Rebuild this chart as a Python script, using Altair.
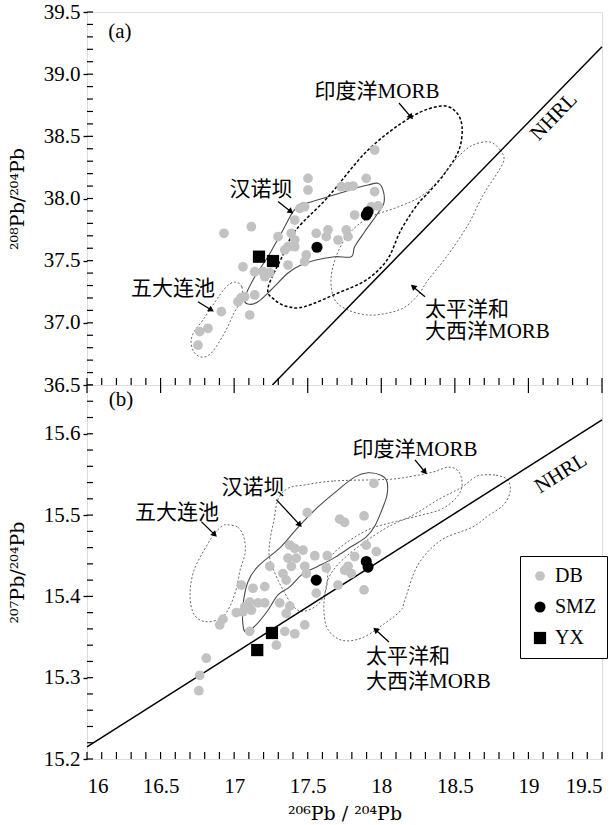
import altair as alt
import pandas as pd

# ================= Panel (a): 208Pb/204Pb vs 206Pb/204Pb =================
a_db_x = [17.502, 17.502, 17.898, 17.728, 17.774, 17.808, 17.955, 17.446, 17.479, 17.412,
          17.819, 17.932, 17.978, 16.931, 17.117, 17.298, 17.388, 17.412, 17.366, 17.412,
          17.344, 17.558, 17.638, 17.626, 17.762, 17.774, 17.706, 17.490, 17.479, 17.366,
          17.060, 17.140, 17.196, 17.242, 17.208, 17.140, 17.072, 17.026, 17.047, 16.913,
          17.106, 16.822, 16.766, 16.754, 17.955]
a_db_y = [38.162, 38.068, 38.162, 38.095, 38.095, 38.100, 38.055, 37.921, 37.934, 37.827,
          37.867, 37.934, 37.940, 37.720, 37.773, 37.693, 37.720, 37.666, 37.612, 37.612,
          37.586, 37.720, 37.747, 37.693, 37.747, 37.693, 37.666, 37.546, 37.492, 37.465,
          37.451, 37.411, 37.411, 37.401, 37.371, 37.224, 37.210, 37.170, 37.200, 37.090,
          37.063, 36.956, 36.929, 36.820, 38.390]
a_smz_x = [17.898, 17.910, 17.563]
a_smz_y = [37.867, 37.894, 37.608]
a_yx_x = [17.169, 17.264]
a_yx_y = [37.532, 37.497]

a_hnb_x = [17.094, 17.072, 17.140, 17.230, 17.332, 17.400, 17.456, 17.502, 17.638, 17.751,
           17.819, 17.910, 17.978, 18.012, 18.018, 17.978, 17.887, 17.819, 17.796, 17.683,
           17.556, 17.454, 17.366, 17.250, 17.162]
a_hnb_y = [37.151, 37.200, 37.371, 37.532, 37.747, 37.894, 37.961, 37.966, 38.014, 38.055,
           38.082, 38.109, 38.122, 38.068, 37.964, 37.883, 37.733, 37.612, 37.532, 37.532,
           37.505, 37.465, 37.401, 37.264, 37.170]
a_ind_x = [17.230, 17.332, 17.420, 17.638, 17.910, 18.202, 18.406, 18.508, 18.549, 18.528,
           18.433, 18.324, 18.243, 18.134, 18.039, 17.896, 17.706, 17.479, 17.366, 17.276]
a_ind_y = [37.280, 37.546, 37.747, 38.012, 38.390, 38.655, 38.744, 38.696, 38.575, 38.390,
           38.205, 38.052, 37.948, 37.747, 37.505, 37.344, 37.240, 37.130, 37.130, 37.184]
a_pac_x = [18.739, 18.807, 18.834, 18.780, 18.712, 18.657, 18.589, 18.453, 18.318, 18.250,
           18.161, 18.046, 17.910, 17.774, 17.685, 17.658, 17.692, 17.774, 17.910, 18.114,
           18.284, 18.419, 18.521, 18.623]
a_pac_y = [38.454, 38.390, 38.310, 38.189, 38.068, 37.948, 37.787, 37.546, 37.344, 37.224,
           37.127, 37.079, 37.063, 37.103, 37.184, 37.344, 37.530, 37.707, 37.843, 37.932,
           38.028, 38.189, 38.334, 38.430]
a_wdl_x = [17.006, 17.053, 17.047, 16.999, 16.945, 16.877, 16.829, 16.775, 16.727, 16.707,
           16.727, 16.788, 16.870, 16.945]
a_wdl_y = [37.328, 37.288, 37.184, 37.079, 36.942, 36.806, 36.741, 36.725, 36.765, 36.846,
           36.926, 37.023, 37.168, 37.288]
a_nhrl_x = [17.26, 19.5]
a_nhrl_y = [36.5, 39.22]

a_lab_c_text = ["(a)", "印度洋MORB", "汉诺坝", "五大连池"]
a_lab_c_x = [16.224, 17.971, 17.183, 16.584]
a_lab_c_y = [39.339, 38.857, 38.068, 37.272]
a_lab_l_text = ["太平洋和", "大西洋MORB"]
a_lab_l_x = [18.297, 18.297]
a_lab_l_y = [37.103, 36.926]
a_nhrl_lab = (19.174, 38.656)

a_arr_x0 = [18.120, 17.298, 16.754, 18.297]
a_arr_y0 = [38.768, 37.975, 37.170, 37.210]
a_arr_x1 = [18.202, 17.386, 16.845, 18.216]
a_arr_y1 = [38.655, 37.894, 37.103, 37.291]
a_arr_ang = [139, 128, 122, 310]

# ================= Panel (b): 207Pb/204Pb vs 206Pb/204Pb =================
b_db_x = [17.950, 17.497, 17.717, 17.751, 17.883, 17.378, 17.412, 17.468, 17.366, 17.422,
          17.389, 17.480, 17.490, 17.548, 17.633, 17.242, 17.332, 17.354, 17.626, 17.774,
          17.751, 17.796, 17.898, 17.966, 17.819, 17.706, 17.558, 17.883, 17.049, 17.128,
          17.208, 17.106, 17.162, 17.208, 17.072, 17.015, 17.060, 17.117, 17.310, 17.378,
          17.354, 16.924, 16.902, 17.106, 17.344, 17.412, 17.480, 17.287, 16.811, 16.766,
          16.760]
b_db_y = [15.539, 15.503, 15.495, 15.491, 15.499, 15.463, 15.459, 15.457, 15.447, 15.447,
          15.437, 15.437, 15.428, 15.450, 15.450, 15.437, 15.428, 15.420, 15.435, 15.437,
          15.432, 15.428, 15.463, 15.455, 15.449, 15.414, 15.404, 15.408, 15.414, 15.410,
          15.412, 15.393, 15.392, 15.392, 15.387, 15.380, 15.381, 15.383, 15.392, 15.388,
          15.379, 15.372, 15.365, 15.357, 15.357, 15.354, 15.365, 15.340, 15.324, 15.303,
          15.284]
b_smz_x = [17.898, 17.910, 17.558]
b_smz_y = [15.443, 15.436, 15.420]
b_yx_x = [17.257, 17.157]
b_yx_y = [15.355, 15.334]

b_hnb_x = [17.821, 17.910, 17.998, 18.039, 18.039, 18.012, 17.957, 17.896, 17.794, 17.685,
           17.570, 17.468, 17.380, 17.298, 17.230, 17.149, 17.081, 17.060, 17.060, 17.094,
           17.162, 17.318, 17.434, 17.570, 17.706]
b_hnb_y = [15.547, 15.552, 15.549, 15.541, 15.525, 15.510, 15.487, 15.473, 15.461, 15.448,
           15.437, 15.428, 15.412, 15.402, 15.383, 15.365, 15.356, 15.365, 15.389, 15.418,
           15.437, 15.461, 15.485, 15.510, 15.531]
b_ind_x = [17.475, 17.679, 18.052, 18.216, 18.352, 18.460, 18.528, 18.549, 18.508, 18.406,
           18.250, 18.052, 17.910, 17.740, 17.651, 17.624, 17.556, 17.434, 17.332, 17.244,
           17.244, 17.271, 17.298, 17.366]
b_ind_y = [15.537, 15.542, 15.544, 15.548, 15.553, 15.559, 15.553, 15.536, 15.521, 15.507,
           15.499, 15.490, 15.482, 15.463, 15.445, 15.408, 15.388, 15.383, 15.408, 15.445,
           15.469, 15.494, 15.519, 15.533]
b_pac_x = [18.671, 18.780, 18.861, 18.875, 18.827, 18.725, 18.617, 18.406, 18.250, 18.161,
           18.134, 18.025, 17.869, 17.733, 17.638, 17.611, 17.617, 17.651, 17.774, 18.012,
           18.216, 18.386, 18.535, 18.617]
b_pac_y = [15.549, 15.549, 15.543, 15.528, 15.512, 15.499, 15.485, 15.469, 15.439, 15.396,
           15.383, 15.367, 15.349, 15.346, 15.359, 15.380, 15.402, 15.426, 15.451, 15.482,
           15.500, 15.519, 15.533, 15.544]
b_wdl_x = [16.958, 17.026, 17.067, 17.074, 17.040, 17.013, 16.958, 16.897, 16.802, 16.727,
           16.700, 16.727, 16.809, 16.870, 16.924]
b_wdl_y = [15.488, 15.485, 15.472, 15.453, 15.432, 15.408, 15.383, 15.372, 15.369, 15.378,
           15.402, 15.432, 15.461, 15.478, 15.487]
b_nhrl_x = [16.0, 19.5]
b_nhrl_y = [15.215, 15.617]

b_lab_c_text = ["(b)", "印度洋MORB", "汉诺坝", "五大连池"]
b_lab_c_x = [16.231, 18.229, 17.128, 16.612]
b_lab_c_y = [15.642, 15.580, 15.533, 15.503]
b_lab_l_text = ["太平洋和", "大西洋MORB"]
b_lab_l_x = [17.896, 17.896]
b_lab_l_y = [15.325, 15.295]
b_nhrl_lab = (19.221, 15.551)

b_arr_x0 = [18.229, 17.287, 16.777, 18.052]
b_arr_y0 = [15.568, 15.519, 15.492, 15.344]
b_arr_x1 = [18.297, 17.446, 16.868, 17.961]
b_arr_y1 = [15.553, 15.488, 15.476, 15.359]
b_arr_ang = [140, 137, 135, 311]

# axis tick values
x_major = [16, 16.5, 17, 17.5, 18, 18.5, 19, 19.5]
x_minor = [round(16 + 0.1 * i, 2) for i in range(36)]
a_y_major = [36.5, 37.0, 37.5, 38.0, 38.5, 39.0, 39.5]
a_y_minor = [round(36.5 + 0.1 * i, 2) for i in range(31)]
b_y_major = [15.2, 15.3, 15.4, 15.5, 15.6]
b_y_minor = [round(15.2 + 0.02 * i, 2) for i in range(24)]

# ================= styling =================
W = 515
HA = 373
HB = 374
SERIF = "Liberation Serif"
TSERIF = "DejaVu Serif"
MIX = "Liberation Serif, Noto Sans CJK SC"
GRAY = "#c2c2c2"

xscale = alt.Scale(domain=[16, 19.5], nice=False, zero=False)


def make_panel(p, yscale, yaxis, xaxis, height, show_legend):
    X = lambda f: alt.X(f, type="quantitative", scale=xscale, axis=xaxis)
    Y = lambda f: alt.Y(f, type="quantitative", scale=yscale, axis=yaxis)
    layers = []

    def contour(xs, ys, color, dash, width):
        df = pd.DataFrame({"x": xs, "y": ys, "i": range(len(xs))})
        kw = dict(color=color, strokeWidth=width, interpolate="cardinal-closed")
        if dash:
            kw["strokeDash"] = dash
        return alt.Chart(df).mark_line(**kw).encode(x=X("x"), y=Y("y"), order="i:Q")

    layers.append(contour(p["hnb_x"], p["hnb_y"], "#4a4a4a", None, 1.1))
    layers.append(contour(p["ind_x"], p["ind_y"], p["ind_color"], p["ind_dash"], p["ind_w"]))
    layers.append(contour(p["pac_x"], p["pac_y"], "#666666", [2, 2], 1))
    layers.append(contour(p["wdl_x"], p["wdl_y"], "#666666", [2, 2], 1))

    nh = pd.DataFrame({"x": p["nhrl_x"], "y": p["nhrl_y"]})
    layers.append(alt.Chart(nh).mark_line(color="black", strokeWidth=1.5).encode(x=X("x"), y=Y("y")))

    # inward ticks
    tl = pd.DataFrame({"v": p["y_minor"]})
    layers.append(alt.Chart(tl).mark_rule(color="black", strokeWidth=1.2).encode(
        y=Y("v"), x=alt.value(0), x2=alt.value(6)))
    tb = pd.DataFrame({"v": x_minor})
    layers.append(alt.Chart(tb).mark_rule(color="black", strokeWidth=1.2).encode(
        x=X("v"), y=alt.value(height), y2=alt.value(height - 7)))
    if p["top_ticks"]:
        tt = pd.DataFrame({"v": x_major})
        layers.append(alt.Chart(tt).mark_rule(color="black", strokeWidth=1.2).encode(
            x=X("v"), y=alt.value(0), y2=alt.value(8)))

    # arrows
    ar = pd.DataFrame({"x0": p["arr_x0"], "y0": p["arr_y0"], "x1": p["arr_x1"],
                       "y1": p["arr_y1"], "ang": p["arr_ang"]})
    layers.append(alt.Chart(ar).mark_rule(color="black", strokeWidth=1.3).encode(
        x=X("x0"), y=Y("y0"), x2="x1:Q", y2="y1:Q"))
    layers.append(alt.Chart(ar).mark_point(shape="triangle-up", filled=True, color="black",
                                           size=45, opacity=1).encode(
        x=X("x1"), y=Y("y1"), angle=alt.Angle("ang:Q", scale=None)))

    # points
    pts = pd.DataFrame({
        "x": p["db_x"] + p["smz_x"] + p["yx_x"],
        "y": p["db_y"] + p["smz_y"] + p["yx_y"],
        "type": ["DB"] * len(p["db_x"]) + ["SMZ"] * len(p["smz_x"]) + ["YX"] * len(p["yx_x"]),
        "ord": [0] * len(p["db_x"]) + [1] * len(p["smz_x"]) + [2] * len(p["yx_x"]),
    })
    if show_legend:
        leg = alt.Legend(orient="none", legendX=433, legendY=171, title=None,
                         strokeColor="black", fillColor="white", padding=10,
                         labelFont=SERIF, labelFontSize=20, rowPadding=11,
                         labelOffset=5, symbolStrokeWidth=0, labelColor="black")
    else:
        leg = None
    dom = ["DB", "SMZ", "YX"]
    layers.append(alt.Chart(pts).mark_point(filled=True, opacity=1, strokeWidth=0).encode(
        x=X("x"), y=Y("y"),
        color=alt.Color("type:N", scale=alt.Scale(domain=dom, range=[GRAY, "black", "black"]), legend=leg),
        shape=alt.Shape("type:N", scale=alt.Scale(domain=dom, range=["circle", "circle", "square"]), legend=leg),
        size=alt.Size("type:N", scale=alt.Scale(domain=dom, range=[95, 150, 200]), legend=leg),
        order="ord:Q",
    ))

    # labels
    lc = pd.DataFrame({"x": p["lab_c_x"], "y": p["lab_c_y"], "t": p["lab_c_text"]})
    layers.append(alt.Chart(lc).mark_text(font=MIX, fontSize=21, color="black", align="center",
                                          baseline="middle").encode(x=X("x"), y=Y("y"), text="t:N"))
    ll = pd.DataFrame({"x": p["lab_l_x"], "y": p["lab_l_y"], "t": p["lab_l_text"]})
    layers.append(alt.Chart(ll).mark_text(font=MIX, fontSize=21, color="black", align="left",
                                          baseline="middle").encode(x=X("x"), y=Y("y"), text="t:N"))
    nl = pd.DataFrame({"x": [p["nhrl_lab"][0]], "y": [p["nhrl_lab"][1]], "t": ["NHRL"]})
    layers.append(alt.Chart(nl).mark_text(font=SERIF, fontSize=21, color="black", align="center",
                                          baseline="middle", angle=p["nhrl_angle"]).encode(
        x=X("x"), y=Y("y"), text="t:N"))

    return alt.layer(*layers).properties(width=W, height=height)


def yax(values, title):
    return alt.Axis(values=values, format=".1f", title=title, grid=False, domain=False,
                    ticks=True, tickSize=4, tickWidth=1.3, tickColor="black",
                    labelFont=SERIF, labelFontSize=21, labelColor="black", labelPadding=3,
                    titleFont=TSERIF, titleFontSize=19, titleFontWeight="normal",
                    titleColor="black", titlePadding=16)


pa = dict(db_x=a_db_x, db_y=a_db_y, smz_x=a_smz_x, smz_y=a_smz_y, yx_x=a_yx_x, yx_y=a_yx_y,
          hnb_x=a_hnb_x, hnb_y=a_hnb_y, ind_x=a_ind_x, ind_y=a_ind_y, ind_color="black",
          ind_dash=[3, 2], ind_w=1.5, pac_x=a_pac_x, pac_y=a_pac_y, wdl_x=a_wdl_x, wdl_y=a_wdl_y,
          nhrl_x=a_nhrl_x, nhrl_y=a_nhrl_y, y_minor=a_y_minor, top_ticks=False,
          arr_x0=a_arr_x0, arr_y0=a_arr_y0, arr_x1=a_arr_x1, arr_y1=a_arr_y1, arr_ang=a_arr_ang,
          lab_c_x=a_lab_c_x, lab_c_y=a_lab_c_y, lab_c_text=a_lab_c_text,
          lab_l_x=a_lab_l_x, lab_l_y=a_lab_l_y, lab_l_text=a_lab_l_text,
          nhrl_lab=a_nhrl_lab, nhrl_angle=314)
pb = dict(db_x=b_db_x, db_y=b_db_y, smz_x=b_smz_x, smz_y=b_smz_y, yx_x=b_yx_x, yx_y=b_yx_y,
          hnb_x=b_hnb_x, hnb_y=b_hnb_y, ind_x=b_ind_x, ind_y=b_ind_y, ind_color="#666666",
          ind_dash=[2, 2], ind_w=1, pac_x=b_pac_x, pac_y=b_pac_y, wdl_x=b_wdl_x, wdl_y=b_wdl_y,
          nhrl_x=b_nhrl_x, nhrl_y=b_nhrl_y, y_minor=b_y_minor, top_ticks=True,
          arr_x0=b_arr_x0, arr_y0=b_arr_y0, arr_x1=b_arr_x1, arr_y1=b_arr_y1, arr_ang=b_arr_ang,
          lab_c_x=b_lab_c_x, lab_c_y=b_lab_c_y, lab_c_text=b_lab_c_text,
          lab_l_x=b_lab_l_x, lab_l_y=b_lab_l_y, lab_l_text=b_lab_l_text,
          nhrl_lab=b_nhrl_lab, nhrl_angle=328)

xaxis_b = alt.Axis(values=x_major, format="~g", title="²⁰⁶Pb / ²⁰⁴Pb", grid=False, domain=False,
                   ticks=False, tickSize=0, labelFont=SERIF, labelFontSize=21, labelColor="black",
                   labelPadding=16, titleFont=TSERIF, titleFontSize=19, titleFontWeight="normal",
                   titleColor="black", titlePadding=8)

chart_a = make_panel(pa, alt.Scale(domain=[36.5, 39.5], nice=False, zero=False),
                     yax(a_y_major, "²⁰⁸Pb/²⁰⁴Pb"), None, HA, False)
chart_b = make_panel(pb, alt.Scale(domain=[15.2, 15.66], nice=False, zero=False),
                     yax(b_y_major, "²⁰⁷Pb/²⁰⁴Pb"), xaxis_b, HB, True)

chart = alt.vconcat(chart_a, chart_b, spacing=0, bounds="flush").resolve_scale(
    color="independent", shape="independent", size="independent", y="independent"
).properties(
    padding={"left": 7, "top": 0, "right": 4, "bottom": 0}
).configure_view(
    stroke="black", strokeWidth=1.6
).configure(background="white")

chart.save("out.html", embed_options={"renderer": "svg", "actions": False})
